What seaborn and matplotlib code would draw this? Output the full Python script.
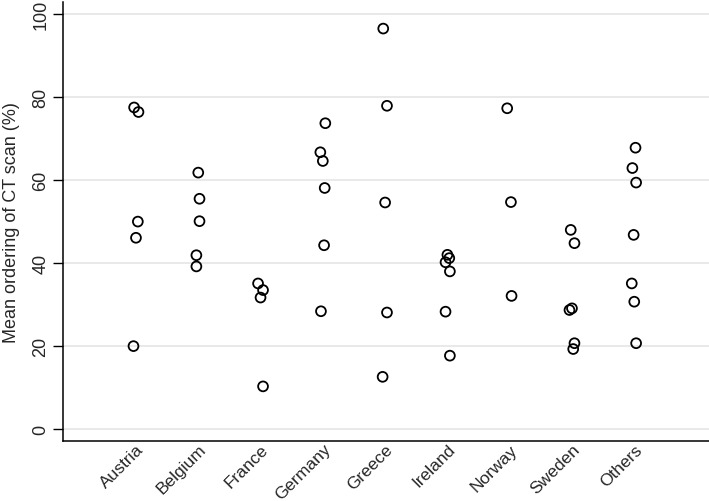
import numpy as np
import pandas as pd
import matplotlib
matplotlib.use('Agg')
import matplotlib.pyplot as plt
import seaborn as sns

# values
countries = ["Austria", "Belgium", "France", "Germany", "Greece",
             "Ireland", "Norway", "Sweden", "Others"]

austria = [77.5, 76.4, 50.0, 46.1, 20.0]
belgium = [61.8, 55.5, 50.1, 41.9, 39.2]
france = [35.1, 33.5, 31.7, 10.3]
germany = [73.7, 66.7, 64.6, 58.1, 44.3, 28.4]
greece = [96.5, 77.9, 54.6, 28.1, 12.6]
ireland = [42.0, 41.2, 40.2, 38.0, 28.3, 17.7]
norway = [77.3, 54.7, 32.1]
sweden = [48.0, 44.8, 29.1, 28.7, 20.7, 19.3]
others = [67.8, 62.9, 59.4, 46.8, 35.1, 30.7, 20.7]

# horizontal jitter of each point (category units)
jit_austria = [-0.03, 0.04, 0.03, 0.0, -0.04]
jit_belgium = [0.0, 0.02, 0.02, -0.03, -0.03]
jit_france = [-0.04, 0.04, 0.0, 0.04]
jit_germany = [0.04, -0.04, 0.0, 0.03, 0.02, -0.03]
jit_greece = [-0.03, 0.03, 0.0, 0.03, -0.04]
jit_ireland = [0.0, 0.03, -0.03, 0.04, -0.03, 0.04]
jit_norway = [-0.04, 0.02, 0.03]
jit_sweden = [-0.02, 0.04, 0.0, -0.04, 0.04, 0.02]
jit_others = [0.02, -0.03, 0.03, -0.01, -0.04, 0.0, 0.03]

values = [austria, belgium, france, germany, greece, ireland, norway, sweden, others]
jitters = [jit_austria, jit_belgium, jit_france, jit_germany, jit_greece,
           jit_ireland, jit_norway, jit_sweden, jit_others]

rows = []
for i, (c, vals, jits) in enumerate(zip(countries, values, jitters)):
    for v, j in zip(vals, jits):
        rows.append({"country": c, "pos": i + j, "value": v})
df = pd.DataFrame(rows)

sns.set_style("white")
plt.rcParams['font.family'] = ['Liberation Sans', 'DejaVu Sans']

fig = plt.figure(figsize=(7.09, 5.02), dpi=100)
ax = fig.add_axes([0.089, 0.12, 0.911, 0.874])

sns.scatterplot(data=df, x="pos", y="value", ax=ax, s=50,
                facecolor="none", edgecolor="black", linewidth=1.3,
                marker="o", legend=False, zorder=3)

ax.set_xlim(-1.17, 9.2)
ax.set_ylim(-2.8, 102.9)
ax.set_yticks([0, 20, 40, 60, 80, 100])
ax.set_xticks(range(len(countries)))
ax.set_xticklabels(countries, rotation=45, ha="right", rotation_mode="anchor",
                   fontsize=12.5)
for lab in ax.get_yticklabels():
    lab.set_rotation(90)
    lab.set_va("center")
ax.tick_params(axis="y", length=7, width=1, color="black", labelsize=13, pad=3,
               left=True)
ax.tick_params(axis="x", length=0, pad=0.3)

ax.yaxis.grid(True, color="#e3e3e3", linewidth=1.1)
ax.set_axisbelow(True)

for side in ["top", "right"]:
    ax.spines[side].set_visible(False)
for side in ["left", "bottom"]:
    ax.spines[side].set_color("black")
    ax.spines[side].set_linewidth(1.1)

ax.set_xlabel("")
ax.set_ylabel("Mean ordering of CT scan (%)", fontsize=13, labelpad=9)

fig.savefig("out.png", dpi=100)
